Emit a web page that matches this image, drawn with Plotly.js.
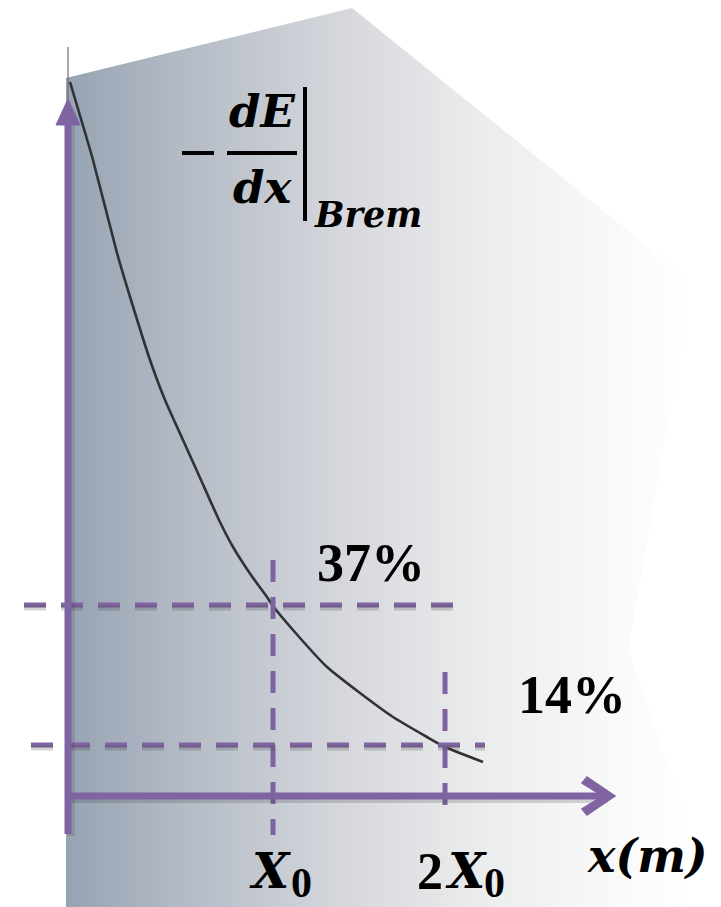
<!DOCTYPE html>
<html>
<head>
<meta charset="utf-8">
<script src="https://cdn.plot.ly/plotly-3.0.1.min.js"></script>
<style>html,body{margin:0;padding:0;background:#fff;}#chart{width:721px;height:907px;}</style>
</head>
<body>
<div id="chart"></div>
<script>
// ---- data (units: distance from the axis origin) ----
const curveX = [2, 25, 49, 63, 82, 97, 115, 133, 151, 165, 183, 199, 205, 225, 259, 292, 325, 359, 377, 415];
const curveY = [713, 635, 542, 495, 435, 395, 355, 315, 275, 248, 220, 198, 189, 165, 128, 102, 78, 58, 48, 33];
const xTickVals = [205, 377];
const xTickLabels = ['X0', '2X0'];
const levelVals = [190, 50];
const levelLabels = ['37%', '14%'];
const yAxisLabel = ['dE', 'dx', 'Brem'];
const xAxisLabel = 'x(m)';

// ---- layout helpers (pixel -> axis units; origin of the drawn axes at px (68,795)) ----
const OX = 68, OY = 795;
const X = px => px - OX;
const Y = py => OY - py;
const PURPLE = '#8064a2';
const MATH = 'DejaVu Serif';
const NUM = 'Liberation Serif';

const traces = [];

// background panel with horizontal gradient
const bgPx = [[66, 78], [352, 8], [693, 283], [628, 650], [718, 907], [66, 907], [66, 78]];
traces.push({
  type: 'scatter', mode: 'lines', x: bgPx.map(p => X(p[0])), y: bgPx.map(p => Y(p[1])),
  fill: 'toself', line: {width: 0, color: 'rgba(0,0,0,0)'}, fillcolor: '#cfd3d9',
  fillgradient: {type: 'horizontal', start: X(66), stop: X(690),
    colorscale: [[0, '#97a3b3'], [0.2, '#b5bcc6'], [0.45, '#d6d8dd'], [0.68, '#eceded'], [0.8, '#f4f4f5'], [0.9, '#fafafa'], [1, '#ffffff']]},
  hoverinfo: 'skip', showlegend: false
});

// the decay curve
traces.push({
  type: 'scatter', mode: 'lines', x: curveX, y: curveY,
  line: {color: '#303236', width: 2.6, shape: 'spline', smoothing: 0.5},
  hoverinfo: 'skip', showlegend: false
});

// dashed guide lines: horizontal at each level, vertical at each tick
const hStart = [24, 31], hEnd = [457, 485];   // px extents
const vTop = [560, 672], vBottom = [835, 805];
const dash = '22px,15px';
levelVals.forEach((v, i) => {
  traces.push({type: 'scatter', mode: 'lines', x: [X(hStart[i]), X(hEnd[i])], y: [v, v],
    line: {color: 'rgba(60,60,60,0.22)', width: 5, dash: dash}, hoverinfo: 'skip', showlegend: false, xaxis: 'x', yaxis: 'y2'});
  traces.push({type: 'scatter', mode: 'lines', x: [X(hStart[i]), X(hEnd[i])], y: [v, v],
    line: {color: PURPLE, width: 5, dash: dash}, hoverinfo: 'skip', showlegend: false});
});
xTickVals.forEach((v, i) => {
  traces.push({type: 'scatter', mode: 'lines', x: [v, v], y: [Y(vTop[i]), Y(vBottom[i])],
    line: {color: PURPLE, width: 5, dash: dash}, hoverinfo: 'skip', showlegend: false});
});

// axes drawn as arrows
const shapes = [];
// shadows
shapes.push({type: 'line', xref: 'x', yref: 'y', x0: X(70), x1: X(608), y0: Y(799), y1: Y(799), line: {color: 'rgba(40,40,40,0.18)', width: 8}, layer: 'above'});
shapes.push({type: 'line', xref: 'x', yref: 'y', x0: X(71), x1: X(71), y0: Y(836), y1: Y(124), line: {color: 'rgba(40,40,40,0.14)', width: 8}, layer: 'above'});
// y axis
shapes.push({type: 'line', xref: 'x', yref: 'y', x0: X(68), x1: X(68), y0: Y(47), y1: Y(100), line: {color: '#6d6d6d', width: 1.2}, layer: 'above'});
shapes.push({type: 'line', xref: 'x', yref: 'y', x0: X(68), x1: X(68), y0: Y(834), y1: Y(120), line: {color: PURPLE, width: 7}, layer: 'above'});
shapes.push({type: 'path', xref: 'x', yref: 'y',
  path: `M ${X(56)} ${Y(125)} L ${X(68)} ${Y(99)} L ${X(80)} ${Y(125)} Z`,
  fillcolor: PURPLE, line: {color: PURPLE, width: 1}, layer: 'above'});
// x axis
shapes.push({type: 'line', xref: 'x', yref: 'y', x0: X(65), x1: X(609), y0: Y(796), y1: Y(796), line: {color: PURPLE, width: 7}, layer: 'above'});
shapes.push({type: 'path', xref: 'x', yref: 'y',
  path: `M ${X(587)} ${Y(777)} L ${X(615)} ${Y(796)} L ${X(587)} ${Y(815)} L ${X(582)} ${Y(809)} L ${X(603)} ${Y(796)} L ${X(582)} ${Y(783)} Z`,
  fillcolor: PURPLE, line: {color: PURPLE, width: 1.5}, layer: 'above'});
// math decorations for the y label: minus, fraction bar, evaluation bar
shapes.push({type: 'line', xref: 'x', yref: 'y', x0: X(182), x1: X(214), y0: Y(153), y1: Y(153), line: {color: '#000', width: 4}, layer: 'above'});
shapes.push({type: 'line', xref: 'x', yref: 'y', x0: X(227), x1: X(297), y0: Y(153), y1: Y(153), line: {color: '#000', width: 4}, layer: 'above'});
shapes.push({type: 'line', xref: 'x', yref: 'y', x0: X(305), x1: X(305), y0: Y(87), y1: Y(221), line: {color: '#000', width: 4}, layer: 'above'});

// annotations
const ann = [];
function txt(text, px, py, family, size, style, anchor) {
  ann.push({xref: 'x', yref: 'y', x: X(px), y: Y(py), text: text, showarrow: false,
    xanchor: anchor || 'center', yanchor: 'middle',
    font: {family: family, size: size, color: '#000', weight: 'bold', style: style}});
}
txt(yAxisLabel[0], 262, 111, MATH, 45, 'italic');
txt(yAxisLabel[1], 262, 187, MATH, 45, 'italic');
txt(yAxisLabel[2], 368, 214, MATH, 35, 'italic');
txt(levelLabels[0], 371, 563, NUM, 54, 'normal');
txt(levelLabels[1], 572, 695, NUM, 54, 'normal');
txt(xAxisLabel, 647, 856, MATH, 46, 'italic');
// tick labels: optional numeric prefix, italic letter, subscript digit
const tickPx = xTickVals.map(v => v + OX);
xTickLabels.forEach((lab, i) => {
  const m = lab.match(/^(\d*)([A-Za-z])(\d)$/);
  const cx = tickPx[i];
  if (m[1]) {
    txt(m[1], cx - 15, 871, NUM, 52, 'normal');
    txt(m[2], cx + 21, 871, MATH, 48, 'italic');
    txt(m[3], cx + 49, 883, NUM, 42, 'normal');
  } else {
    txt(m[2], cx - 3, 871, MATH, 48, 'italic');
    txt(m[3], cx + 28, 883, NUM, 42, 'normal');
  }
});

const layout = {
  width: 721, height: 907,
  margin: {l: 0, r: 0, t: 0, b: 0, pad: 0},
  paper_bgcolor: '#ffffff', plot_bgcolor: 'rgba(0,0,0,0)',
  showlegend: false,
  xaxis: {range: [X(0), X(721)], visible: false, fixedrange: true},
  yaxis: {range: [Y(907), Y(0)], visible: false, fixedrange: true},
  yaxis2: {range: [Y(907) + 3, Y(0) + 3], visible: false, overlaying: 'y', fixedrange: true},
  shapes: shapes,
  annotations: ann
};

Plotly.newPlot('chart', traces, layout, {staticPlot: true, displayModeBar: false});
</script>
</body>
</html>
